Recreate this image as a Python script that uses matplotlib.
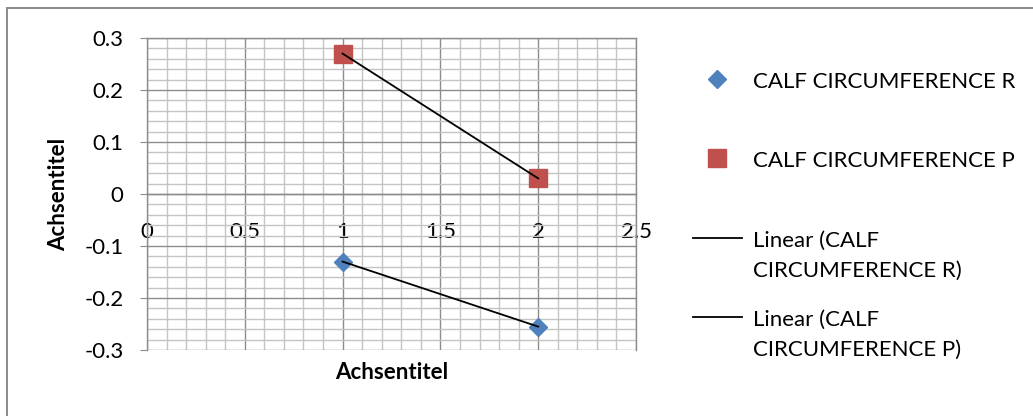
import numpy as np
import matplotlib
matplotlib.use("Agg")
import matplotlib.pyplot as plt
from matplotlib.ticker import MultipleLocator, FuncFormatter
from matplotlib.patches import Rectangle

# ---- data ----
x_vals = [1, 2]
calf_r = [-0.13, -0.255]
calf_p = [0.27, 0.03]
label_r = "CALF CIRCUMFERENCE R"
label_p = "CALF CIRCUMFERENCE P"
axis_title = "Achsentitel"

plt.rcParams["font.family"] = ["Lato", "DejaVu Sans"]
plt.rcParams["axes.unicode_minus"] = False
FS = 16

W, H = 1033, 416
fig = plt.figure(figsize=(W / 100, H / 100), dpi=100)
ax = fig.add_axes([147 / W, 1 - 350 / H, (636 - 147) / W, (350 - 38) / H])

# chart frame (Excel style, cut off on the right and bottom)
fig.patches.append(Rectangle((7 / W, -0.05), 1.2, 1 - 8 / H + 0.05,
                             transform=fig.transFigure, fill=False,
                             edgecolor="#8a8a8a", linewidth=1.4))

ax.set_xlim(0, 2.5)
ax.set_ylim(-0.3, 0.3)
ax.xaxis.set_major_locator(MultipleLocator(0.5))
ax.xaxis.set_minor_locator(MultipleLocator(0.1))
ax.yaxis.set_major_locator(MultipleLocator(0.1))
ax.yaxis.set_minor_locator(MultipleLocator(0.02))
fmt = FuncFormatter(lambda v, _: f"{round(v, 3):g}")
ax.xaxis.set_major_formatter(fmt)
ax.yaxis.set_major_formatter(fmt)

ax.grid(which="minor", color="#c4c4c4", linewidth=1.0, zorder=0)
ax.grid(which="major", color="#8c8c8c", linewidth=1.0, zorder=0)
ax.set_axisbelow(True)

for side in ["top", "right", "bottom", "left"]:
    ax.spines[side].set_color("#8c8c8c")
    ax.spines[side].set_linewidth(1.0)
ax.spines["bottom"].set_position(("data", 0))

ax.tick_params(axis="y", which="major", length=5, color="#8c8c8c",
               labelsize=FS, pad=12)
ax.tick_params(axis="x", which="major", length=0, labelsize=FS, pad=20)
ax.tick_params(which="minor", length=0)

# scatter series
ax.plot(x_vals, calf_r, linestyle="none", marker="D", markersize=9.5,
        color="#4f81bd", label=label_r + "\n", zorder=3)
ax.plot(x_vals, calf_p, linestyle="none", marker="s", markersize=13.5,
        color="#c0504d", label=label_p + "\n", zorder=3)

# linear trend lines
xs = np.array(x_vals, dtype=float)
for vals, name in [(calf_r, label_r), (calf_p, label_p)]:
    k, b = np.polyfit(xs, vals, 1)
    name2 = name.replace("CALF ", "CALF\n")
    ax.plot(xs, k * xs + b, color="black", linewidth=1.3,
            label=f"Linear ({name2})", zorder=4)

ax.set_xlabel(axis_title, fontsize=FS, fontweight="bold")
ax.xaxis.set_label_coords(0.5, -0.04)
ax.set_ylabel(axis_title, fontsize=FS, fontweight="bold")
ax.yaxis.set_label_coords(-0.160, 0.5)

leg = fig.legend(loc="upper left", bbox_to_anchor=(693 / W, 1 - 72 / H),
                 frameon=False, fontsize=FS, handlelength=2.2,
                 handletextpad=0.5, labelspacing=1.32, borderaxespad=0,
                 borderpad=0)
for t in leg.get_texts():
    t.set_linespacing(1.62)
# Excel puts the legend key next to the first line of the label
for h in leg.legend_handles:
    h.set_ydata(np.asarray(h.get_ydata(), dtype=float) + 13)

fig.savefig("out.png", dpi=100)
